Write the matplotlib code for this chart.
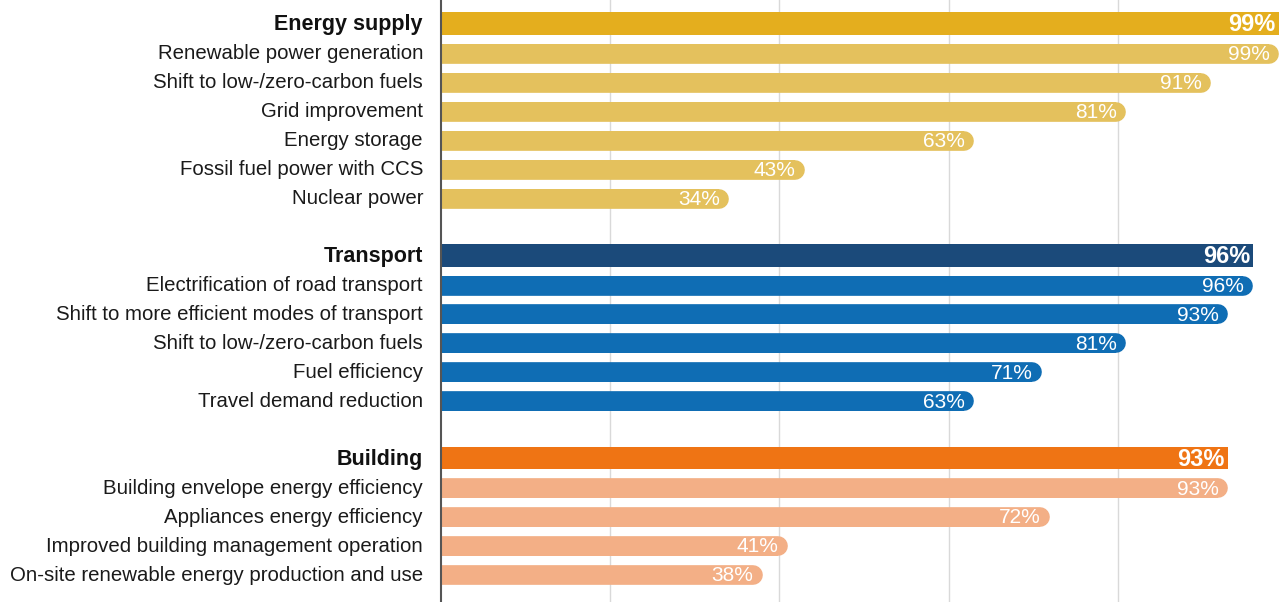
import matplotlib
matplotlib.use("Agg")
import matplotlib.pyplot as plt

plt.rcParams['font.family'] = ['Liberation Sans', 'DejaVu Sans']

# Sector totals and the measures inside each sector (percent)
sectors = ["Energy supply", "Transport", "Building"]
sector_values = [99, 96, 93]

energy_labels = ["Renewable power generation", "Shift to low-/zero-carbon fuels",
                 "Grid improvement", "Energy storage", "Fossil fuel power with CCS",
                 "Nuclear power"]
energy_values = [99, 91, 81, 63, 43, 34]

transport_labels = ["Electrification of road transport",
                    "Shift to more efficient modes of transport",
                    "Shift to low-/zero-carbon fuels", "Fuel efficiency",
                    "Travel demand reduction"]
transport_values = [96, 93, 81, 71, 63]

building_labels = ["Building envelope energy efficiency", "Appliances energy efficiency",
                   "Improved building management operation",
                   "On-site renewable energy production and use"]
building_values = [93, 72, 41, 38]

header_colors = ["#E4AE1E", "#1B4A7A", "#EF7414"]
item_colors = ["#E4C15D", "#0F6DB4", "#F3AF86"]

groups = [
    (sectors[0], sector_values[0], energy_labels, energy_values),
    (sectors[1], sector_values[1], transport_labels, transport_values),
    (sectors[2], sector_values[2], building_labels, building_values),
]

W, H, DPI = 1287, 602, 100
fig = plt.figure(figsize=(W / DPI, H / DPI), dpi=DPI)
ax_left = 441 / W
ax = fig.add_axes([ax_left, 0.0, 1 - ax_left, 1.0])

pitch_px = 28.95
top_px = 25.0
y_top = -top_px / pitch_px
y_bottom = 19 + (H - 575) / pitch_px
ax.set_ylim(y_bottom, y_top)
ax.set_xlim(0, 100)

# conversions between data units and pixels
ax_w_px = (1 - ax_left) * W
px_per_unit_x = ax_w_px / 100.0
px_per_unit_y = H / (y_bottom - y_top)

header_h = 0.79
item_h = 0.68
item_h_px = item_h * px_per_unit_y
radius_data = (item_h_px / 2) / px_per_unit_x
lw_pts = item_h_px * 72 / DPI

label_x = -18 / px_per_unit_x

row = 0
for gi, (name, total, labels, values) in enumerate(groups):
    # sector header bar (square end)
    ax.barh(row - 0.04, total, height=header_h, color=header_colors[gi], zorder=2,
            linewidth=0)
    ax.text(total - 3 / px_per_unit_x, row, f"{total}%", ha="right",
            va="center", color="white", fontsize=17, fontweight="bold", zorder=4)
    ax.text(label_x, row, name, ha="right", va="center", fontsize=15.5,
            fontweight="bold", color="#111111", clip_on=False)
    row += 1
    for lab, v in zip(labels, values):
        c = item_colors[gi]
        ax.barh(row, v - radius_data, height=item_h * 0.96, color=c, zorder=2,
                linewidth=0)
        # pill-shaped overlay: round cap reaches exactly the bar value
        ax.plot([0, v - radius_data], [row, row], color=c, lw=lw_pts,
                solid_capstyle="round", zorder=3)
        ax.text(v - 9 / px_per_unit_x, row + 0.03, f"{v}%", ha="right",
                va="center", color="white", fontsize=15, zorder=4)
        ax.text(label_x, row, lab, ha="right", va="center", fontsize=14.7,
                color="#1a1a1a", clip_on=False)
        row += 1
    row += 1

for x in [20, 40, 60, 80]:
    ax.axvline(x, color="#d9d9d9", lw=1, zorder=1)

for s in ["top", "right", "bottom"]:
    ax.spines[s].set_visible(False)
ax.spines["left"].set_color("#555555")
ax.spines["left"].set_linewidth(1.5)
ax.spines["left"].set_zorder(5)
ax.set_xticks([])
ax.set_yticks([])

fig.savefig("out.png", dpi=DPI, facecolor="white")
